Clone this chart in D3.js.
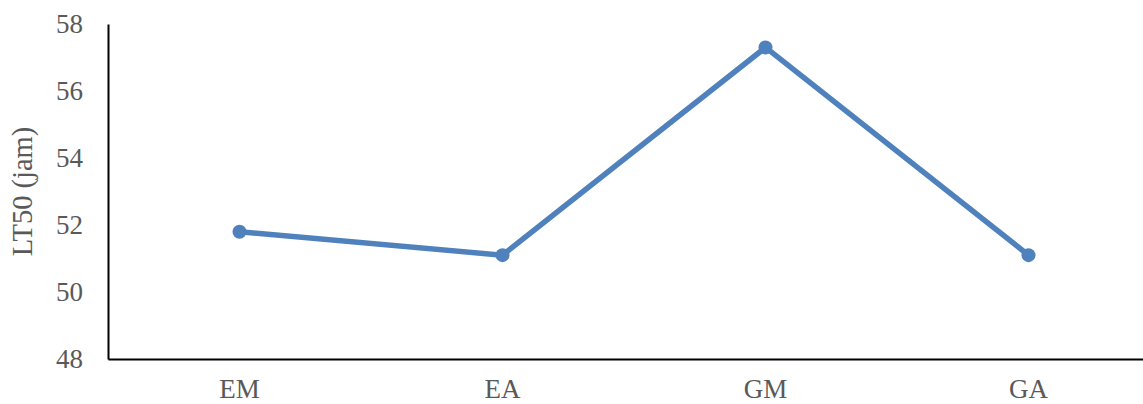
<!DOCTYPE html>
<html>
<head>
<meta charset="utf-8">
<script src="https://cdn.jsdelivr.net/npm/d3@7/dist/d3.min.js"></script>
<style>
  html, body { margin: 0; padding: 0; background: #fff; }
  svg { display: block; }
</style>
</head>
<body>
<svg id="chart" width="1143" height="404"></svg>
<script>
// LT50 per treatment
const categories = ["EM", "EA", "GM", "GA"];
const lt50Values = [51.8, 51.1, 57.3, 51.1];
const yTicks = [48, 50, 52, 54, 56, 58];
const yTitle = "LT50 (jam)";

const svg = d3.select("#chart");
const plotLeft = 108, plotTop = 24, plotBottom = 359;
const bandW = 263;

const x = d3.scaleBand()
  .domain(categories)
  .range([plotLeft, plotLeft + bandW * categories.length]);

const y = d3.scaleLinear()
  .domain([48, 58])
  .range([plotBottom, plotTop]);

const font = "'Liberation Serif', 'Times New Roman', serif";
const textColor = "#595959";

// y axis: line with labels, no tick marks
const yAxis = svg.append("g")
  .attr("transform", `translate(${plotLeft},0)`)
  .call(d3.axisLeft(y).tickValues(yTicks).tickSize(0).tickPadding(25).tickFormat(d3.format("d")));
yAxis.select(".domain").attr("stroke", "#000").attr("stroke-width", 2);
yAxis.selectAll("text")
  .attr("font-family", font)
  .attr("font-size", 27)
  .attr("fill", textColor);

// x axis
const xAxis = svg.append("g")
  .attr("transform", `translate(0,${plotBottom})`)
  .call(d3.axisBottom(x).tickSize(0).tickPadding(20));
xAxis.select(".domain").attr("stroke", "#000").attr("stroke-width", 2);
xAxis.selectAll("text")
  .attr("font-family", font)
  .attr("font-size", 27)
  .attr("fill", textColor);

// axis title
svg.append("text")
  .attr("transform", `translate(32,${(plotTop + plotBottom) / 2}) rotate(-90)`)
  .attr("text-anchor", "middle")
  .attr("font-family", font)
  .attr("font-size", 28.5)
  .attr("fill", textColor)
  .text(yTitle);

const cx = d => x(d) + x.bandwidth() / 2;
const pts = categories.map((c, i) => ({ c, v: lt50Values[i] }));

// series line
svg.append("path")
  .datum(pts)
  .attr("fill", "none")
  .attr("stroke", "#4F81BD")
  .attr("stroke-width", 5.5)
  .attr("stroke-linejoin", "round")
  .attr("d", d3.line().x(d => cx(d.c)).y(d => y(d.v)));

// markers
svg.append("g").selectAll("circle")
  .data(pts)
  .join("circle")
  .attr("cx", d => cx(d.c))
  .attr("cy", d => y(d.v))
  .attr("r", 7)
  .attr("fill", "#4F81BD");
</script>
</body>
</html>
